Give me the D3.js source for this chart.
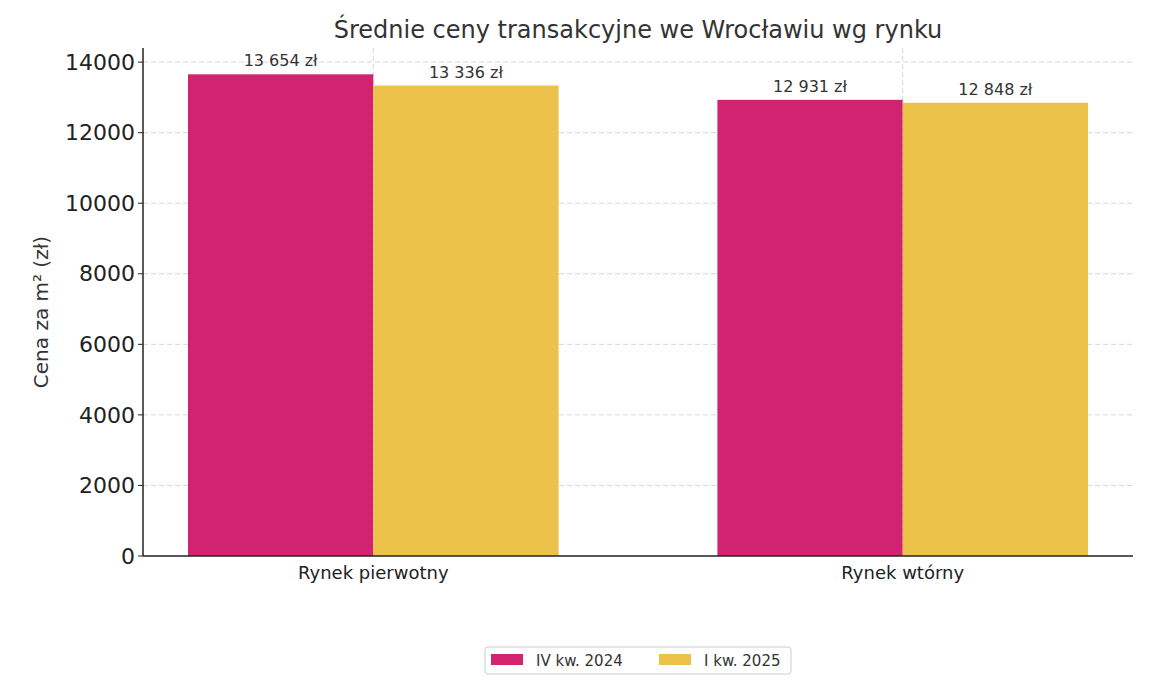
<!DOCTYPE html>
<html><head><meta charset="utf-8">
<script src="https://cdn.jsdelivr.net/npm/d3@7"></script>
<style>body{margin:0;background:#fff;font-family:"DejaVu Sans",sans-serif}</style>
</head><body>
<script>
var categories = ["Rynek pierwotny", "Rynek wtórny"];
var seriesNames = ["IV kw. 2024", "I kw. 2025"];
var seriesValues = [[13654, 12931], [13336, 12848]];
var valueLabels = [["13 654 zł", "12 931 zł"], ["13 336 zł", "12 848 zł"]];
var yTicks = [0, 2000, 4000, 6000, 8000, 10000, 12000, 14000];
var colors = ["#D22370", "#ECC24A"];

var width = 1165, height = 691;
var svg = d3.select("body").append("svg").attr("width", width).attr("height", height)
  .attr("font-family", "DejaVu Sans, sans-serif");

var pLeft = 143, pRight = 1133, pTop = 48, pBottom = 556;
var x = d3.scaleLinear().domain([-0.435, 1.435]).range([pLeft, pRight]);
var y = d3.scaleLinear().domain([0, 14400]).range([pBottom, pTop]);
var bw = 0.35;

// grid
svg.append("g").selectAll("line").data(yTicks.slice(1)).enter().append("line")
  .attr("x1", pLeft).attr("x2", pRight).attr("y1", y).attr("y2", y)
  .attr("stroke", "#ccc").attr("stroke-dasharray", "5,3").attr("stroke-width", 0.8);
svg.append("g").selectAll("line").data(categories).enter().append("line")
  .attr("x1", function(d, i) { return x(i); }).attr("x2", function(d, i) { return x(i); })
  .attr("y1", pTop).attr("y2", pBottom)
  .attr("stroke", "#ccc").attr("stroke-dasharray", "5,3").attr("stroke-width", 0.8);

// bars
seriesValues.forEach(function(vals, s) {
  var off = s === 0 ? -bw : 0;
  var g = svg.append("g");
  g.selectAll("rect").data(vals).enter().append("rect")
    .attr("x", function(d, i) { return x(i + off); })
    .attr("width", x(bw) - x(0))
    .attr("y", y).attr("height", function(d) { return pBottom - y(d); })
    .attr("fill", colors[s]);
  g.selectAll("text").data(vals).enter().append("text")
    .attr("x", function(d, i) { return x(i + off + bw / 2); })
    .attr("y", function(d) { return y(d) - 8; })
    .attr("text-anchor", "middle").attr("font-size", 16).attr("fill", "#333")
    .text(function(d, i) { return valueLabels[s][i]; });
});

// axes
svg.append("line").attr("x1", pLeft).attr("x2", pLeft).attr("y1", pTop).attr("y2", pBottom).attr("stroke", "#222").attr("stroke-width", 1.5);
svg.append("line").attr("x1", pLeft).attr("x2", pRight).attr("y1", pBottom).attr("y2", pBottom).attr("stroke", "#222").attr("stroke-width", 1.5);
svg.append("g").selectAll("text").data(yTicks).enter().append("text")
  .attr("x", pLeft - 8).attr("y", y).attr("dy", "0.35em").attr("text-anchor", "end")
  .attr("font-size", 22).attr("fill", "#222").text(function(d) { return d; });
svg.append("g").selectAll("line").data(yTicks).enter().append("line")
  .attr("x1", pLeft - 5).attr("x2", pLeft).attr("y1", y).attr("y2", y).attr("stroke", "#222");
svg.append("g").selectAll("text").data(categories).enter().append("text")
  .attr("x", function(d, i) { return x(i); }).attr("y", 579)
  .attr("text-anchor", "middle").attr("font-size", 18).attr("fill", "#222").text(function(d) { return d; });

svg.append("text").attr("transform", "translate(48," + ((pTop + pBottom) / 2 + 10) + ") rotate(-90)")
  .attr("text-anchor", "middle").attr("font-size", 20).attr("fill", "#333").text("Cena za m² (zł)");
svg.append("text").attr("x", 638).attr("y", 38).attr("text-anchor", "middle")
  .attr("font-size", 24).attr("fill", "#333").text("Średnie ceny transakcyjne we Wrocławiu wg rynku");

// legend
var lg = svg.append("g");
lg.append("rect").attr("x", 485).attr("y", 647).attr("width", 306).attr("height", 27).attr("rx", 3)
  .attr("fill", "#fff").attr("stroke", "#ccc");
var lx = [491, 659];
seriesNames.forEach(function(n, i) {
  lg.append("rect").attr("x", lx[i]).attr("y", 654).attr("width", 32).attr("height", 11).attr("fill", colors[i]);
  lg.append("text").attr("x", lx[i] + 45).attr("y", 666).attr("font-size", 15).attr("fill", "#333").text(n);
});
</script>
</body></html>
